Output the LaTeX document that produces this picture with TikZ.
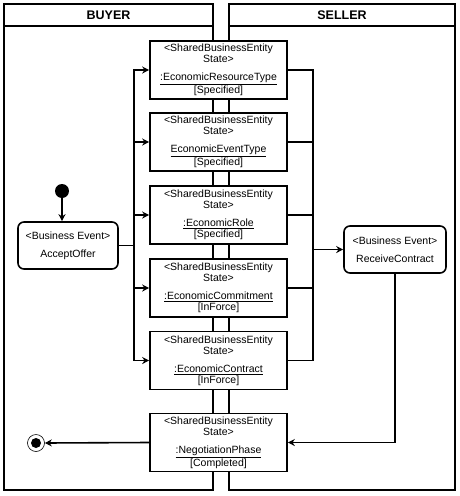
\documentclass[tikz,border=0pt]{standalone}
\usepackage{fontspec}
\setmainfont{Liberation Sans}
\usetikzlibrary{arrows.meta}
\begin{document}
\begin{tikzpicture}[x=1pt,y=-1pt,
 lane/.style={draw,line width=2.4pt},
 sep/.style={line width=1.8pt},
 head/.style={font=\bfseries\fontsize{12.5}{14}\selectfont},
 sbe/.style={draw,fill=white,line width=1.6pt,minimum width=137pt,minimum height=58pt,inner sep=0pt,align=center,font=\fontsize{10.5}{11}\selectfont},
 bevent/.style={draw,fill=white,rounded corners=6pt,line width=1.6pt,minimum height=47pt,inner sep=0pt,align=center,font=\fontsize{10.5}{11}\selectfont},
 conn/.style={line width=1.6pt},
 arr/.style={conn,-{Stealth[length=7pt,width=7pt]}}
]
\useasboundingbox (0,0) rectangle (459,496);
% lanes
\draw[lane] (4,4) rectangle (213,490);
\draw[sep] (4,26) -- (213,26);
\draw[lane] (229,4) rectangle (455,490);
\draw[sep] (229,26) -- (455,26);
\node[head] (buyer) at (108.5,15.5) {BUYER};
\node[head] (seller) at (342,15.5) {SELLER};
% states
\node[sbe] (b1) at (218.5,70) {<SharedBusinessEntity\\State>\\[7pt]\underline{:EconomicResourceType}\\{}[Specified]};
\node[sbe] (b2) at (218.5,142) {<SharedBusinessEntity\\State>\\[7pt]\underline{EconomicEventType}\\{}[Specified]};
\node[sbe] (b3) at (218.5,215) {<SharedBusinessEntity\\State>\\[7pt]\underline{:EconomicRole}\\{}[Specified]};
\node[sbe] (b4) at (218.5,288) {<SharedBusinessEntity\\State>\\[7pt]\underline{:EconomicCommitment}\\{}[InForce]};
\node[sbe] (b5) at (218.5,360.5) {<SharedBusinessEntity\\State>\\[7pt]\underline{:EconomicContract}\\{}[InForce]};
\node[sbe] (b6) at (218.5,442.5) {<SharedBusinessEntity\\State>\\[7pt]\underline{:NegotiationPhase}\\{}[Completed]};
% events
\node[bevent,minimum width=100pt] (ao) at (68,245.5) {<Business Event>\\[7pt]AcceptOffer};
\node[bevent,minimum width=102pt] (rc) at (395,249.5) {<Business Event>\\[7pt]ReceiveContract};
% initial / final
\node[circle,fill,minimum size=14pt,inner sep=0pt] (init) at (62,191) {};
\node[circle,draw,line width=0.6pt,minimum size=17pt,inner sep=0pt] (final) at (36,443) {};
\node[circle,fill,minimum size=10pt,inner sep=0pt] (finaldot) at (final) {};
\draw[arr] (init) -- (init |- ao.north);
% fork
\coordinate (fork) at (134,245.5);
\draw[conn] (ao.east) -- (fork);
\foreach \b in {b1,b2,b3,b4,b5} \draw[arr] (fork) |- (\b.west);
% join
\coordinate (join) at (313,249.5);
\foreach \b in {b1,b2,b3,b4,b5} \draw[conn] (\b.east) -| (join);
\draw[arr] (join) -- (rc.west);
\draw[arr] (rc.south) |- (b6.east);
\draw[arr] (b6.west) -- (final.east);
\end{tikzpicture}
\end{document}
